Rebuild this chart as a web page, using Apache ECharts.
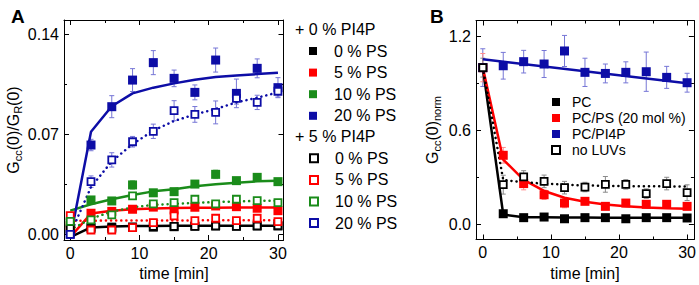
<!DOCTYPE html>
<html>
<head>
<meta charset="utf-8">
<script src="https://cdn.jsdelivr.net/npm/echarts@6/dist/echarts.min.js"></script>
<style>
  html, body { margin: 0; padding: 0; background: #fff; }
  #chart { width: 699px; height: 285px; }
</style>
</head>
<body>
<div id="chart"></div>
<script>
const FONT = '"Liberation Sans", Arial, sans-serif';
const BLUE = '#0d0da6', RED = '#ff0000', GREEN = '#1a8c1a', BLACK = '#000000';

const time = [0, 3, 6, 9, 12, 15, 18, 21, 24, 27, 30];

// panel A, + 0 % PI4P (filled squares)
const aFill0 = [0.003, 0.005, 0.005, 0.005, 0.005, 0.0053, 0.0058, 0.006, 0.0058, 0.006, 0.0058];
const aFill5 = [0.006, 0.0147, 0.016, 0.0175, 0.019, 0.017, 0.0189, 0.0198, 0.0193, 0.0182, 0.0165];
const aFill10 = [0.008, 0.024, 0.0233, 0.0345, 0.029, 0.0298, 0.0351, 0.0419, 0.0375, 0.0398, 0.0368];
const aFill20 = [0.000, 0.0624, 0.0892, 0.1078, 0.120, 0.109, 0.0992, 0.1218, 0.0985, 0.116, 0.1025];
// panel A, + 5 % PI4P (open squares)
const aOpen0 = [0.004, 0.004, 0.004, 0.005, 0.0055, 0.0055, 0.0055, 0.0058, 0.0055, 0.0058, 0.006];
const aOpen5 = [0.013, 0.003, 0.003, 0.0046, 0.0081, 0.0128, 0.0095, 0.0112, 0.0095, 0.0112, 0.0088];
const aOpen10 = [0.009, 0.010, 0.0135, 0.0268, 0.0212, 0.0221, 0.0245, 0.0212, 0.0245, 0.0235, 0.0221];
const aOpen20 = [0.000, 0.0368, 0.052, 0.0647, 0.072, 0.0864, 0.0838, 0.0852, 0.095, 0.0922, 0.100];
// error bars
const aErrFill20 = [0.002, 0.004, 0.0077, 0.008, 0.0084, 0.0058, 0.0052, 0.0084, 0.010, 0.0066, 0.007];
const aErrOpen20 = [0.002, 0.004, 0.005, 0.0037, 0.005, 0.007, 0.0055, 0.008, 0.004, 0.005, 0.004];
const aErrFill10 = [0.001, 0.002, 0.002, 0.003, 0.002, 0.002, 0.002, 0.003, 0.002, 0.002, 0.002];
const aErrOpen10 = [0.001, 0.001, 0.0015, 0.002, 0.0015, 0.0015, 0.002, 0.0015, 0.0015, 0.0015, 0.0015];
const aErrFill5 = [0.002, 0.0015, 0.0015, 0.0015, 0.002, 0.002, 0.0015, 0.0015, 0.0015, 0.0015, 0.0015];
const aErrOpen5 = [0.001, 0.001, 0.001, 0.001, 0.0012, 0.0012, 0.001, 0.0012, 0.001, 0.0012, 0.001];
// fitted curves
const aFitFill0 = [-0.002, 0.0048, 0.0055, 0.0057, 0.0058, 0.0059, 0.006, 0.006, 0.006, 0.006, 0.006];
const aFitFill5 = [-0.002, 0.0145, 0.0165, 0.0175, 0.018, 0.0183, 0.0185, 0.0186, 0.0187, 0.0187, 0.0187];
const aFitFill10 = [0.0165, 0.021, 0.0245, 0.0275, 0.030, 0.0315, 0.0335, 0.035, 0.036, 0.037, 0.0375];
const aFitFill20 = [-0.003, 0.0717, 0.0895, 0.0985, 0.1025, 0.1055, 0.108, 0.110, 0.111, 0.112, 0.113];
const aFitOpen5 = [0.0095, 0.0095, 0.0096, 0.0096, 0.0097, 0.0097, 0.0097, 0.0098, 0.0098, 0.0098, 0.0098];
const aFitOpen10 = [0.003, 0.011, 0.0158, 0.0189, 0.0205, 0.0212, 0.022, 0.0225, 0.023, 0.0233, 0.0235];
const aFitOpen20 = [0.000, 0.033, 0.051, 0.063, 0.0725, 0.0792, 0.0838, 0.0876, 0.0922, 0.0955, 0.0992];

// panel B
const bPC = [1.0, 0.070, 0.045, 0.049, 0.038, 0.045, 0.045, 0.038, 0.045, 0.045, 0.043];
const bPS = [1.0, 0.442, 0.262, 0.191, 0.138, 0.149, 0.117, 0.138, 0.13, 0.13, 0.117];
const bPI4P = [1.0, 1.012, 1.038, 1.023, 1.106, 0.970, 0.963, 0.970, 0.974, 0.938, 0.904];
const bNoLUV = [1.0, 0.255, 0.304, 0.276, 0.236, 0.24, 0.257, 0.257, 0.198, 0.262, 0.204];
const bErrPI4P = [0.12, 0.085, 0.072, 0.086, 0.099, 0.09, 0.06, 0.067, 0.125, 0.07, 0.06];
const bErrPS = [0.09, 0.05, 0.04, 0.03, 0.03, 0.02, 0.02, 0.02, 0.02, 0.02, 0.02];
const bErrNoLUV = [0.06, 0.06, 0.04, 0.04, 0.04, 0.03, 0.05, 0.03, 0.03, 0.04, 0.05];
const bFitPC = [1.0, 0.065, 0.048, 0.047, 0.046, 0.046, 0.045, 0.045, 0.045, 0.045, 0.045];
const bFitPS = [1.0, 0.415, 0.285, 0.215, 0.172, 0.146, 0.129, 0.118, 0.110, 0.105, 0.101];
const bFitNoLUV = [1.0, 0.285, 0.27, 0.262, 0.255, 0.25, 0.248, 0.246, 0.245, 0.244, 0.243];
const bFitPI4PTime = [0, 30];
const bFitPI4P = [1.053, 0.90];

const xMajor = [0, 10, 20, 30], xMinor = [5, 15, 25];
const aYMajor = [0, 0.07, 0.14], aYMinor = [0.035, 0.105];
const bYMajor = [0, 0.6, 1.2], bYMinor = [0.3, 0.9];

function pts(ts, ys) { return ts.map((t, i) => [t, ys[i]]); }

// four axes per side: main + minor ticks, mirrored on opposite side
function axes(dim, grid, min, max, major, minor, fmt, name, nameGap, nameStyle) {
  const near = dim === 'x' ? 'bottom' : 'left';
  const far = dim === 'x' ? 'top' : 'right';
  const base = { type: 'value', gridIndex: grid, min: min, max: max, splitLine: { show: false } };
  const line = { show: true, onZero: false, lineStyle: { color: '#000', width: 1 } };
  const tick = (vals, len) => ({ show: true, inside: true, length: len, customValues: vals, lineStyle: { color: '#000', width: 1 } });
  const main = Object.assign({}, base, {
    position: near, axisLine: line, axisTick: tick(major, 5),
    axisLabel: { show: true, customValues: major, formatter: fmt, margin: 5, color: '#000', fontSize: 16, fontFamily: FONT }
  });
  if (name) Object.assign(main, { name: name, nameLocation: 'middle', nameGap: nameGap, nameTextStyle: nameStyle });
  return [
    main,
    Object.assign({}, base, { position: near, axisLine: { show: false, onZero: false }, axisTick: tick(minor, 3), axisLabel: { show: false } }),
    Object.assign({}, base, { position: far, axisLine: line, axisTick: tick(major, 5), axisLabel: { show: false } }),
    Object.assign({}, base, { position: far, axisLine: { show: false, onZero: false }, axisTick: tick(minor, 3), axisLabel: { show: false } })
  ];
}

const nameStyle = {
  color: '#000', fontSize: 16, fontFamily: FONT,
  rich: {
    n: { fontSize: 16, lineHeight: 20, fontFamily: FONT, color: '#000' },
    s: { fontSize: 11, lineHeight: 11, verticalAlign: 'bottom', fontFamily: FONT, color: '#000' }
  }
};

function filled(name, g, ys, color) {
  return { type: 'scatter', name: name, xAxisIndex: g, yAxisIndex: g, data: pts(time, ys),
    symbol: 'rect', symbolSize: 9, itemStyle: { color: color, opacity: 1 }, z: 4 };
}
function open(name, g, ys, color) {
  return { type: 'scatter', name: name, xAxisIndex: g, yAxisIndex: g, data: pts(time, ys),
    symbol: 'rect', symbolSize: 7, itemStyle: { color: '#fff', borderColor: color, borderWidth: 1.8, opacity: 1 }, z: 5 };
}
function fit(g, ts, ys, color, dotted) {
  return { type: 'line', xAxisIndex: g, yAxisIndex: g, data: pts(ts, ys), symbol: 'none', silent: true, z: 3,
    lineStyle: dotted ? { color: color, width: 2.5, type: [0.1, 5], cap: 'round' } : { color: color, width: 2.5 } };
}
function errorBars(g, ys, es, color) {
  return {
    type: 'custom', xAxisIndex: g, yAxisIndex: g, silent: true, z: 2,
    data: time.map((t, i) => [t, ys[i], es[i]]),
    encode: { x: 0, y: 1 },
    renderItem: function (params, api) {
      const x = api.value(0), y = api.value(1), e = api.value(2);
      const top = api.coord([x, y + e]), bot = api.coord([x, y - e]);
      const w = 2.5, st = { stroke: color, lineWidth: 1 };
      return { type: 'group', children: [
        { type: 'line', shape: { x1: top[0], y1: top[1], x2: bot[0], y2: bot[1] }, style: st },
        { type: 'line', shape: { x1: top[0] - w, y1: top[1], x2: top[0] + w, y2: top[1] }, style: st },
        { type: 'line', shape: { x1: bot[0] - w, y1: bot[1], x2: bot[0] + w, y2: bot[1] }, style: st }
      ] };
    }
  };
}

const legendText = { color: '#000', fontSize: 16, fontFamily: FONT, padding: [0, 0, 0, 12] };
const stripName = n => n.split('|')[0];

const option = {
  animation: false,
  title: [
    { text: 'A', left: 6, top: 2, textStyle: { fontSize: 19, fontWeight: 'bold', fontFamily: FONT, color: '#000' } },
    { text: 'B', left: 425, top: 2, textStyle: { fontSize: 19, fontWeight: 'bold', fontFamily: FONT, color: '#000' } }
  ],
  grid: [
    { left: 64, top: 20, width: 219.5, height: 220 },
    { left: 476, top: 20.5, width: 218.5, height: 219 }
  ],
  xAxis: [].concat(
    axes('x', 0, -0.9, 30.8, xMajor, xMinor, v => String(v)),
    axes('x', 1, -1, 31, xMajor, xMinor, v => String(v))
  ),
  yAxis: [].concat(
    axes('y', 0, -0.004, 0.1498, aYMajor, aYMinor, v => v.toFixed(2), '{n|G}{s|cc}{n|(0)/G}{s|R}{n|(0)}', 41, nameStyle),
    axes('y', 1, -0.094, 1.30, bYMajor, bYMinor, v => v.toFixed(1), '{n|G}{s|cc}{n|(0)}{s|norm}', 34, nameStyle)
  ),
  legend: [
    { orient: 'vertical', left: 309, top: 43, padding: 0, itemGap: 5.6, itemWidth: 8, itemHeight: 8,
      icon: 'rect', textStyle: legendText, formatter: stripName,
      data: ['0 % PS|f', '5 % PS|f', '10 % PS|f', '20 % PS|f'], selectedMode: false },
    { orient: 'vertical', left: 309, top: 150.3, padding: 0, itemGap: 5.6, itemWidth: 8, itemHeight: 8,
      icon: 'rect', textStyle: legendText, formatter: stripName,
      data: ['0 % PS|o', '5 % PS|o', '10 % PS|o', '20 % PS|o'], selectedMode: false },
    { orient: 'vertical', left: 551, top: 95, padding: 0, itemGap: 2, itemWidth: 8, itemHeight: 8,
      icon: 'rect', textStyle: { color: '#000', fontSize: 14, fontFamily: FONT, padding: [0, 0, 0, 7] },
      data: ['PC', 'PC/PS (20 mol %)', 'PC/PI4P', 'no LUVs'], selectedMode: false }
  ],
  graphic: [
    { type: 'text', left: 295, top: 21, style: { text: '+ 0 % PI4P', font: '16px ' + FONT, fill: '#000' } },
    { type: 'text', left: 295, top: 128.5, style: { text: '+ 5 % PI4P', font: '16px ' + FONT, fill: '#000' } },
    { type: 'text', x: 174, y: 273, style: { text: 'time [min]', font: '16px ' + FONT, fill: '#000', align: 'center', verticalAlign: 'middle' } },
    { type: 'text', x: 585, y: 273, style: { text: 'time [min]', font: '16px ' + FONT, fill: '#000', align: 'center', verticalAlign: 'middle' } }
  ],
  series: [
    errorBars(0, aFill20, aErrFill20, '#7676d6'),
    errorBars(0, aOpen20, aErrOpen20, '#7676d6'),
    errorBars(0, aFill10, aErrFill10, '#8cc88c'),
    errorBars(0, aOpen10, aErrOpen10, '#8cc88c'),
    errorBars(0, aFill5, aErrFill5, '#ff8c8c'),
    errorBars(0, aOpen5, aErrOpen5, '#ff8c8c'),
    fit(0, time, aFitFill0, BLACK, false),
    fit(0, time, aFitFill5, RED, false),
    fit(0, time, aFitFill10, GREEN, false),
    fit(0, time, aFitFill20, BLUE, false),
    fit(0, time, aFitOpen5, RED, true),
    fit(0, time, aFitOpen10, GREEN, true),
    fit(0, time, aFitOpen20, BLUE, true),
    filled('0 % PS|f', 0, aFill0, BLACK),
    filled('5 % PS|f', 0, aFill5, RED),
    filled('10 % PS|f', 0, aFill10, GREEN),
    filled('20 % PS|f', 0, aFill20, BLUE),
    open('0 % PS|o', 0, aOpen0, BLACK),
    open('5 % PS|o', 0, aOpen5, RED),
    open('10 % PS|o', 0, aOpen10, GREEN),
    open('20 % PS|o', 0, aOpen20, BLUE),

    errorBars(4, bPI4P, bErrPI4P, '#7676d6'),
    errorBars(4, bPS, bErrPS, '#ff8c8c'),
    errorBars(4, bNoLUV, bErrNoLUV, '#8a8a8a'),
    fit(4, time, bFitPC, BLACK, false),
    fit(4, time, bFitPS, RED, false),
    fit(4, bFitPI4PTime, bFitPI4P, BLUE, false),
    fit(4, time, bFitNoLUV, BLACK, true),
    filled('PC', 4, bPC, BLACK),
    filled('PC/PS (20 mol %)', 4, bPS, RED),
    filled('PC/PI4P', 4, bPI4P, BLUE),
    open('no LUVs', 4, bNoLUV, BLACK)
  ]
};

const chart = echarts.init(document.getElementById('chart'), null, { renderer: 'svg' });
chart.setOption(option);
</script>
</body>
</html>
